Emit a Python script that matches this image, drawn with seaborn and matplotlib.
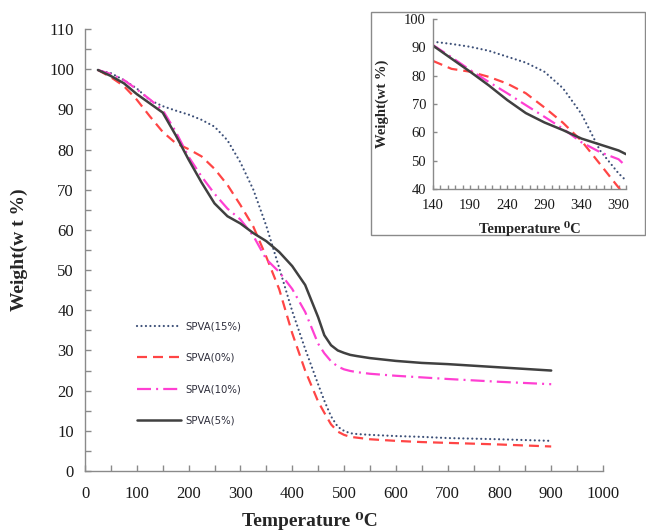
import matplotlib
matplotlib.use("Agg")
import matplotlib.pyplot as plt
import seaborn as sns
import numpy as np
import pandas as pd
from matplotlib.patches import Rectangle
from matplotlib.ticker import MultipleLocator, FixedLocator

# ---------------- data (main chart) ----------------
temp = [25, 50, 75, 100, 125, 150, 175, 200, 225, 250, 275, 300, 325, 350,
        375, 400, 425, 450, 462, 475, 488, 500, 512, 525, 550, 600, 650, 700, 800, 900]

spva15 = [99.8, 99.0, 97.3, 95.2, 92.3, 90.8, 89.7, 88.7, 87.4, 85.7, 82.3, 76.8, 70.0, 61.0,
          50.5, 39.8, 30.4, 21.6, 17.5, 13.6, 11.0, 10.0, 9.4, 9.2, 9.0, 8.7, 8.5, 8.2, 7.9, 7.5]
spva0 = [99.8, 98.0, 95.8, 92.4, 88.3, 84.4, 81.6, 80.1, 78.3, 75.2, 71.2, 66.2, 60.8, 53.3,
         45.2, 34.3, 25.0, 17.3, 14.5, 11.6, 9.8, 9.0, 8.5, 8.3, 7.9, 7.5, 7.2, 7.0, 6.6, 6.1]
spva10 = [99.8, 98.8, 97.3, 95.0, 92.5, 89.8, 84.5, 78.2, 73.3, 69.0, 65.3, 62.6, 58.5, 52.7,
          49.5, 45.3, 39.6, 31.7, 29.3, 27.3, 26.0, 25.3, 24.9, 24.6, 24.2, 23.7, 23.3, 22.9, 22.2, 21.6]
spva5 = [99.8, 98.3, 96.5, 93.8, 91.5, 89.2, 83.6, 77.5, 71.8, 66.6, 63.4, 61.6, 59.2, 57.2,
         54.5, 51.0, 46.3, 38.3, 33.8, 31.3, 30.0, 29.4, 28.9, 28.6, 28.1, 27.4, 26.9, 26.6, 25.8, 25.0]

# ---------------- data (inset) ----------------
temp_in = [140, 165, 190, 215, 240, 265, 290, 315, 340, 365, 390, 400]
in15 = [92.0, 91.2, 90.2, 88.8, 86.7, 84.6, 81.4, 75.6, 66.5, 53.6, 45.5, 43.0]
in0 = [85.2, 82.4, 81.4, 79.6, 77.2, 73.8, 68.8, 63.4, 57.0, 48.8, 40.5, 37.5]
in10 = [90.8, 86.5, 82.0, 77.8, 73.8, 69.6, 65.5, 61.3, 56.5, 53.0, 50.5, 48.0]
in5 = [90.6, 86.0, 81.4, 76.6, 71.4, 66.8, 63.5, 60.8, 57.8, 55.7, 53.6, 52.3]

labels = ["SPVA(15%)", "SPVA(0%)", "SPVA(10%)", "SPVA(5%)"]
main_vals = [spva15, spva0, spva10, spva5]
inset_vals = [in15, in0, in10, in5]

colors = ["#3d5078", "#ff4545", "#ff3fd2", "#404040"]
dashes = [(0.01, 2.0), (4.5, 2.7), (6.3, 2.3, 0.9, 2.3), None]
widths = [1.6, 1.6, 1.6, 1.8]

sns.set_theme(style="white")
plt.rcParams["font.family"] = ["Liberation Serif", "DejaVu Serif"]

fig = plt.figure(figsize=(6.46, 5.31), dpi=100)
W, H = 646, 531
ax = fig.add_axes([85 / W, 1 - 471 / H, (603 - 85) / W, (471 - 29) / H])


def draw(axis, xs, series_list):
    for lab, vals, c, d, lw in zip(labels, series_list, colors, dashes, widths):
        df = pd.DataFrame({"T": xs, "W": vals})
        sns.lineplot(data=df, x="T", y="W", ax=axis, color=c, linewidth=lw,
                     label=lab, legend=False)
        ln = axis.lines[-1]
        if d is not None:
            ln.set_dashes(d)
        if d == (0.01, 2.0):
            ln.set_dash_capstyle("round")
        else:
            ln.set_dash_capstyle("butt")
        ln.set_solid_joinstyle("round")


def style_axes(axis, fs):
    for s in ["top", "right"]:
        axis.spines[s].set_visible(False)
    for s in ["left", "bottom"]:
        axis.spines[s].set_color("#8a8a8a")
        axis.spines[s].set_linewidth(1.0)
    axis.tick_params(which="both", direction="in", color="#8a8a8a", length=4,
                     width=1, labelsize=fs, labelcolor="#1a1a1a", pad=6,
                     left=True, bottom=True)
    axis.set_facecolor("white")


draw(ax, temp, main_vals)
ax.set_xlim(0, 1000)
ax.set_ylim(0, 110)
ax.xaxis.set_major_locator(MultipleLocator(100))
ax.xaxis.set_minor_locator(MultipleLocator(50))
ax.yaxis.set_major_locator(MultipleLocator(10))
ax.yaxis.set_minor_locator(MultipleLocator(5))
style_axes(ax, 12)
ax.tick_params(axis="y", pad=8)
ax.tick_params(axis="x", pad=11)
ax.set_xlabel("Temperature \u2070C", fontsize=14, fontweight="bold")
ax.xaxis.set_label_coords(0.434, -0.092)
ax.set_ylabel("Weight(w t %)", fontsize=14, fontweight="bold")
ax.yaxis.set_label_coords(-0.11, 0.5)

handles, labs = ax.get_legend_handles_labels()
leg = ax.legend(handles, labs, loc="upper left", bbox_to_anchor=(0.1004, 0.338),
                frameon=False, borderpad=0, borderaxespad=0, handlelength=4.3,
                handletextpad=0.5, labelspacing=2.1,
                prop={"family": "DejaVu Sans", "size": 7.3})
for t in leg.get_texts():
    t.set_color("#2e2e3c")

# inset frame
fig.patches.append(Rectangle((371 / W, 1 - 235 / H), (645 - 371) / W, (235 - 12) / H,
                             transform=fig.transFigure, facecolor="white",
                             edgecolor="#8a8a8a", linewidth=1.0, zorder=2))

axi = fig.add_axes([433 / W, 1 - 189 / H, (626 - 433) / W, (189 - 19) / H], zorder=3)
draw(axi, temp_in, inset_vals)
axi.set_xlim(140, 400)
axi.set_ylim(40, 100)
axi.xaxis.set_major_locator(FixedLocator([140, 190, 240, 290, 340, 390]))
axi.xaxis.set_minor_locator(MultipleLocator(10))
axi.yaxis.set_major_locator(MultipleLocator(10))
style_axes(axi, 10.5)
axi.tick_params(which="both", length=3, pad=5)
axi.tick_params(axis="x", pad=7)
axi.set_xlabel("Temperature \u2070C", fontsize=10.5, fontweight="bold")
axi.xaxis.set_label_coords(0.5, -0.19)
axi.set_ylabel("Weight(wt %)", fontsize=10.5, fontweight="bold")
axi.yaxis.set_label_coords(-0.228, 0.5)

fig.savefig("out.png", dpi=100, facecolor="white")
